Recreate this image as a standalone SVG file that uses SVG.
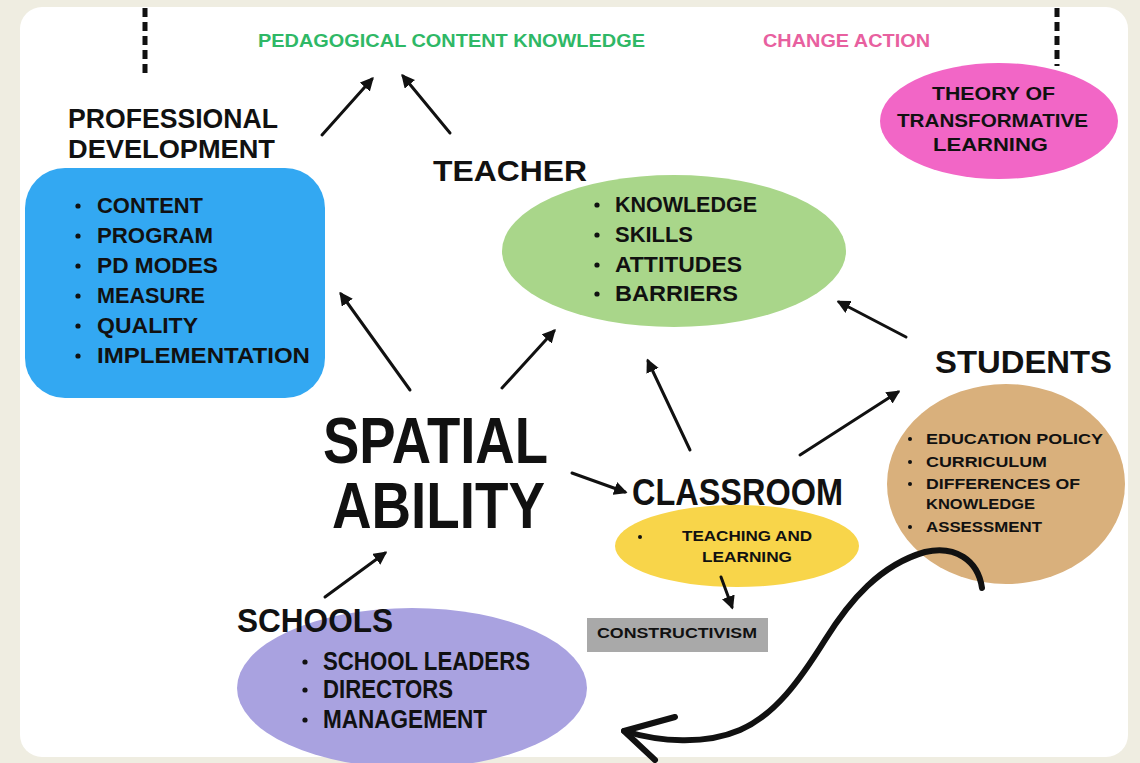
<svg xmlns="http://www.w3.org/2000/svg" width="1140" height="763" viewBox="0 0 1140 763">
<style>
.t{font-family:"Liberation Sans",Arial,sans-serif;font-weight:bold;fill:#111;}
.arr{stroke:#111;stroke-width:3;fill:none;stroke-linecap:round;marker-end:url(#ah);}
.dash{stroke:#111;stroke-width:5;stroke-dasharray:9 5;fill:none;}
.bul{fill:#111;}
</style>
<defs>
<marker id="ah" viewBox="0 0 10 10" refX="8" refY="5" markerWidth="4.5" markerHeight="4.5" orient="auto" markerUnits="strokeWidth">
<path d="M0,0 L10,5 L0,10 Z" fill="#111"/>
</marker>
</defs>
<rect x="0" y="0" width="1140" height="763" fill="#efede1"/>
<rect x="20" y="7" width="1108" height="750" rx="22" fill="#ffffff"/>

<g id="dashes">
<line class="dash" x1="145" y1="8" x2="145" y2="73"/>
<line class="dash" x1="1057" y1="8" x2="1057" y2="66"/>
</g>

<g id="pck">
<text class="t" x="258" y="47" font-size="19" textLength="387" lengthAdjust="spacingAndGlyphs" style="fill:#2fb866">PEDAGOGICAL CONTENT KNOWLEDGE</text>
</g>
<g id="change-action">
<text class="t" x="763" y="47" font-size="19" textLength="167" lengthAdjust="spacingAndGlyphs" style="fill:#e8609f">CHANGE ACTION</text>
</g>
<g id="transformative">
<ellipse cx="999" cy="121" rx="119" ry="58" fill="#f266c6"/>
<text class="t" x="932" y="100" font-size="19" textLength="123" lengthAdjust="spacingAndGlyphs">THEORY OF</text>
<text class="t" x="897" y="127" font-size="19" textLength="191" lengthAdjust="spacingAndGlyphs">TRANSFORMATIVE</text>
<text class="t" x="933" y="151" font-size="19" textLength="115" lengthAdjust="spacingAndGlyphs">LEARNING</text>
</g>

<g id="professional-development">
<text class="t" x="68" y="128" font-size="28" textLength="210" lengthAdjust="spacingAndGlyphs">PROFESSIONAL</text>
<text class="t" x="68" y="158" font-size="26" textLength="207" lengthAdjust="spacingAndGlyphs">DEVELOPMENT</text>
<rect x="25" y="168" width="300" height="230" rx="40" fill="#33a8f2"/>
<circle class="bul" cx="78" cy="206" r="2.6"/>
<text class="t" x="97" y="213" font-size="22" textLength="106" lengthAdjust="spacingAndGlyphs">CONTENT</text>
<circle class="bul" cx="78" cy="236" r="2.6"/>
<text class="t" x="97" y="243" font-size="22" textLength="116" lengthAdjust="spacingAndGlyphs">PROGRAM</text>
<circle class="bul" cx="78" cy="266" r="2.6"/>
<text class="t" x="97" y="273" font-size="22" textLength="121" lengthAdjust="spacingAndGlyphs">PD MODES</text>
<circle class="bul" cx="78" cy="296" r="2.6"/>
<text class="t" x="97" y="303" font-size="22" textLength="108" lengthAdjust="spacingAndGlyphs">MEASURE</text>
<circle class="bul" cx="78" cy="326" r="2.6"/>
<text class="t" x="97" y="333" font-size="22" textLength="101" lengthAdjust="spacingAndGlyphs">QUALITY</text>
<circle class="bul" cx="78" cy="356" r="2.6"/>
<text class="t" x="97" y="363" font-size="22" textLength="213" lengthAdjust="spacingAndGlyphs">IMPLEMENTATION</text>
</g>

<g id="teacher">
<text class="t" x="433" y="181" font-size="30" textLength="154" lengthAdjust="spacingAndGlyphs">TEACHER</text>
<ellipse cx="674" cy="251" rx="172" ry="76" fill="#a9d68a"/>
<circle class="bul" cx="597" cy="205" r="2.6"/>
<text class="t" x="615" y="212" font-size="22" textLength="142" lengthAdjust="spacingAndGlyphs">KNOWLEDGE</text>
<circle class="bul" cx="597" cy="235" r="2.6"/>
<text class="t" x="615" y="242" font-size="22" textLength="78" lengthAdjust="spacingAndGlyphs">SKILLS</text>
<circle class="bul" cx="597" cy="265" r="2.6"/>
<text class="t" x="615" y="272" font-size="22" textLength="127" lengthAdjust="spacingAndGlyphs">ATTITUDES</text>
<circle class="bul" cx="597" cy="294" r="2.6"/>
<text class="t" x="615" y="301" font-size="22" textLength="123" lengthAdjust="spacingAndGlyphs">BARRIERS</text>
</g>

<g id="students">
<text class="t" x="935" y="373" font-size="32" textLength="177" lengthAdjust="spacingAndGlyphs">STUDENTS</text>
<ellipse cx="1006" cy="484" rx="119" ry="100" fill="#d9b07c"/>
<circle class="bul" cx="910" cy="439" r="2"/>
<text class="t" x="926" y="444" font-size="15" textLength="177" lengthAdjust="spacingAndGlyphs">EDUCATION POLICY</text>
<circle class="bul" cx="910" cy="462" r="2"/>
<text class="t" x="926" y="467" font-size="15" textLength="121" lengthAdjust="spacingAndGlyphs">CURRICULUM</text>
<circle class="bul" cx="910" cy="484" r="2"/>
<text class="t" x="926" y="489" font-size="15" textLength="154" lengthAdjust="spacingAndGlyphs">DIFFERENCES OF</text>
<text class="t" x="926" y="509" font-size="15" textLength="109" lengthAdjust="spacingAndGlyphs">KNOWLEDGE</text>
<circle class="bul" cx="910" cy="527" r="2"/>
<text class="t" x="926" y="532" font-size="15" textLength="116" lengthAdjust="spacingAndGlyphs">ASSESSMENT</text>
</g>

<g id="spatial-ability">
<text class="t" x="323" y="463" font-size="64" textLength="225" lengthAdjust="spacingAndGlyphs">SPATIAL</text>
<text class="t" x="332" y="528" font-size="64" textLength="213" lengthAdjust="spacingAndGlyphs">ABILITY</text>
</g>

<g id="classroom">
<text class="t" x="632" y="505" font-size="36" textLength="211" lengthAdjust="spacingAndGlyphs">CLASSROOM</text>
<ellipse cx="737" cy="546" rx="122" ry="41" fill="#f8d54a"/>
<circle class="bul" cx="640" cy="537" r="2"/>
<text class="t" x="682" y="541" font-size="15" textLength="130" lengthAdjust="spacingAndGlyphs">TEACHING AND</text>
<text class="t" x="702" y="562" font-size="15" textLength="90" lengthAdjust="spacingAndGlyphs">LEARNING</text>
</g>

<g id="constructivism">
<rect x="587" y="618" width="181" height="34" fill="#a9a9a9"/>
<text class="t" x="597" y="638" font-size="14" textLength="160" lengthAdjust="spacingAndGlyphs">CONSTRUCTIVISM</text>
</g>

<g id="schools">
<ellipse cx="412" cy="688" rx="175" ry="80" fill="#a9a2e0"/>
<text class="t" x="237" y="632" font-size="33" textLength="156" lengthAdjust="spacingAndGlyphs">SCHOOLS</text>
<circle class="bul" cx="305" cy="662" r="2.6"/>
<text class="t" x="323" y="670" font-size="25" textLength="207" lengthAdjust="spacingAndGlyphs">SCHOOL LEADERS</text>
<circle class="bul" cx="305" cy="690" r="2.6"/>
<text class="t" x="323" y="698" font-size="25" textLength="130" lengthAdjust="spacingAndGlyphs">DIRECTORS</text>
<circle class="bul" cx="305" cy="720" r="2.6"/>
<text class="t" x="323" y="728" font-size="25" textLength="164" lengthAdjust="spacingAndGlyphs">MANAGEMENT</text>
</g>

<g id="connectors">
<line class="arr" x1="322" y1="135" x2="372" y2="79"/>
<line class="arr" x1="450" y1="133" x2="403" y2="76"/>
<line class="arr" x1="410" y1="390" x2="341" y2="294"/>
<line class="arr" x1="502" y1="388" x2="554" y2="331"/>
<line class="arr" x1="572" y1="473" x2="625" y2="492"/>
<line class="arr" x1="690" y1="450" x2="648" y2="361"/>
<line class="arr" x1="800" y1="455" x2="898" y2="392"/>
<line class="arr" x1="906" y1="337" x2="839" y2="302"/>
<line class="arr" x1="721" y1="577" x2="732" y2="607"/>
<line class="arr" x1="325" y1="597" x2="385" y2="553"/>
<path d="M982,588 C978,560 955,545 925,552 C880,565 850,600 825,640 C800,680 775,715 740,730 C705,745 660,742 624,731" stroke="#111" stroke-width="6" fill="none" stroke-linecap="round"/>
<path d="M675,717 L624,731 L655,760" stroke="#111" stroke-width="6" fill="none" stroke-linecap="round" stroke-linejoin="round"/>
</g>
</svg>
